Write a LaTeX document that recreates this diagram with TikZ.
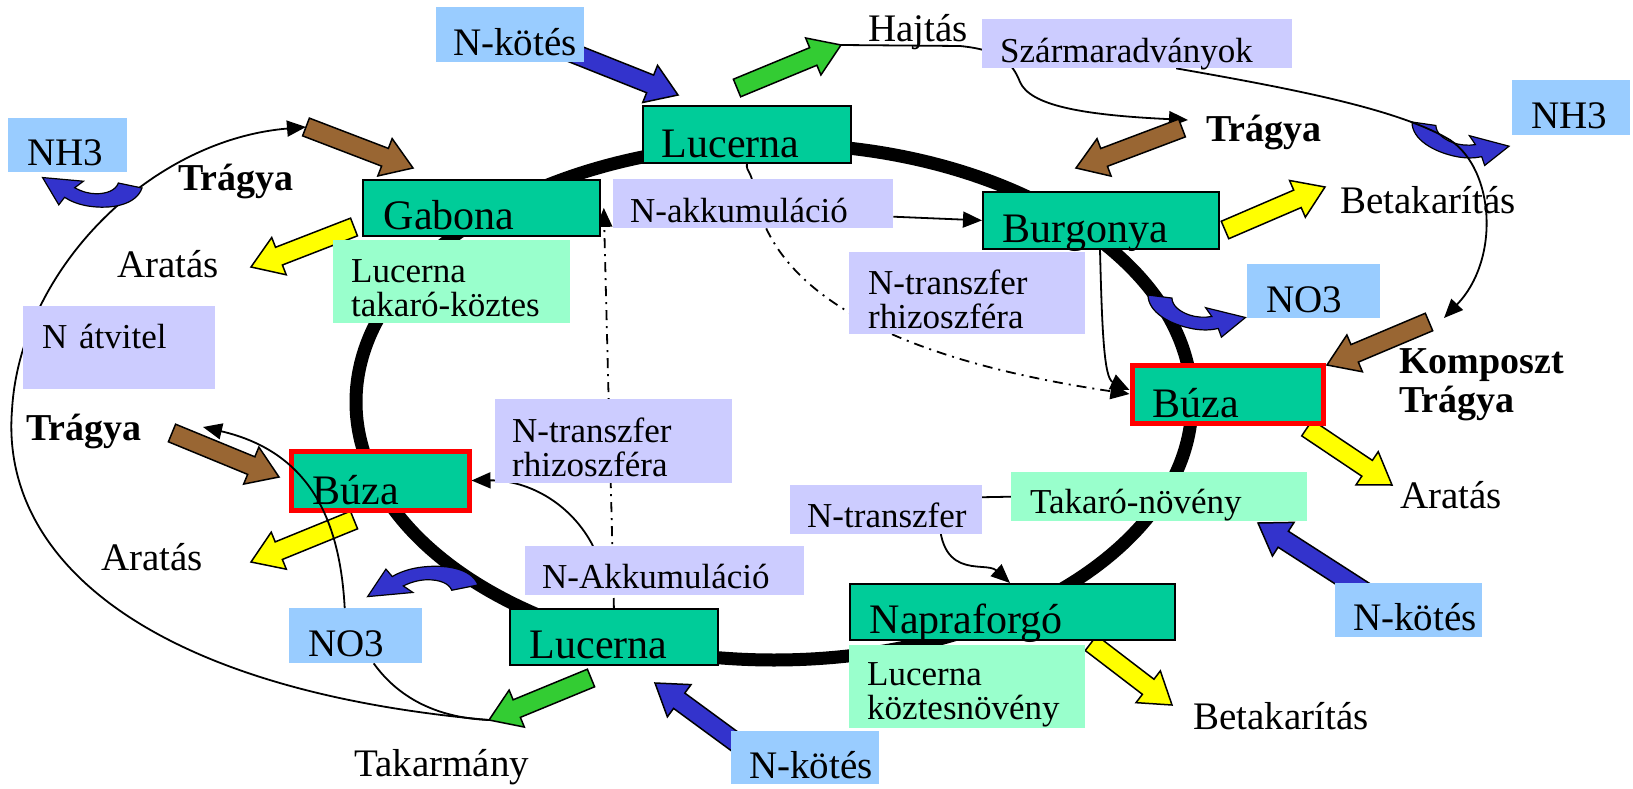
\documentclass[tikz,border=0pt]{standalone}
\usepackage{fontspec}
\setmainfont{Liberation Serif}
\usetikzlibrary{calc, arrows.meta}
\hyphenpenalty=10000
\exhyphenpenalty=10000
\definecolor{cropgreen}{HTML}{00CC99}
\definecolor{gasblue}{HTML}{99CCFF}
\definecolor{notelilac}{HTML}{CCCCFF}
\definecolor{covermint}{HTML}{99FFCC}
\definecolor{manure}{HTML}{996633}
\definecolor{harvest}{HTML}{FFFF00}
\definecolor{shoot}{HTML}{33CC33}
\definecolor{fixblue}{HTML}{3333CC}
\newcommand{\cropfont}{\fontsize{42}{48}\selectfont}
\newcommand{\notefont}{\fontsize{35}{34}\selectfont}
\newcommand{\gasfont}{\fontsize{39}{44}\selectfont}
\newcommand{\outfont}{\fontsize{39}{44}\selectfont}
\newcommand{\heavyfont}{\fontsize{38}{39}\selectfont\bfseries}
\pgfdeclarelayer{back}
\pgfsetlayers{back,main}
\tikzset{
	plate/.code n args={4}{%
		\pgfmathsetmacro\platew{#1-2*#3}%
		\pgfmathsetmacro\plated{#2-#4}%
		\edef\platekeys{anchor=north west, inner xsep=#3pt, inner ysep=0pt, text width=\platew pt, text height=#4pt, text depth=\plated pt, minimum height=#2pt, align=left}%
		\expandafter\pgfkeysalso\expandafter{\platekeys}},
}
\newcommand{\fatarrow}[3]{%
	\coordinate (fa-base) at ($(#3)!30pt!(#2)$);
	\draw[line width=1.5pt, fill=#1]($(#2)!9.5pt!90:(#3)$)--($(fa-base)!9.5pt!90:(#3)$)--($(fa-base)!20pt!90:(#3)$)--(#3)--($(fa-base)!20pt!-90:(#3)$)--($(fa-base)!9.5pt!-90:(#3)$)--($(#2)!9.5pt!-90:(#3)$)--cycle;
}
\newcommand{\curlarrow}[1]{%
	\draw[line width=1.2pt, fill=fixblue, #1](0,0) .. controls (4,28) and (28,40) .. (52,38) .. controls (62,37) and (70,33) .. (76,28)--(81,41)--(100,0)--(59,-1)--(67,11) .. controls (60,16) and (52,18) .. (45,17) .. controls (34,15) and (26,8) .. (24,-4)--cycle;
}

\begin{document}
\begin{tikzpicture}[x=1pt, y=-1pt,
	flow/.style={line width=1.8pt, -{Triangle[length=19pt, width=16pt]}},
	link/.style={line width=1.8pt},
	dashdot/.style={flow, dash pattern=on 10pt off 6pt on 2pt off 6pt},
	crop/.style={draw, line width=1.8pt, fill=cropgreen, font=\cropfont},
	wheat/.style={crop, draw=red, line width=5pt},
	gas/.style={fill=gasblue, font=\gasfont},
	note/.style={fill=notelilac, font=\notefont},
	cover/.style={fill=covermint, font=\notefont},
	word/.style={anchor=base west, inner sep=0pt, font=\outfont},
	heavy/.style={word, font=\heavyfont}]
	\useasboundingbox (0,0) rectangle (1633,789);

	\node[plate={208}{57}{19}{52}, crop] (lucn) at (642,105) {Lucerna};
	\node[plate={237}{56}{21}{50}, crop] (gabona) at (362,179) {Gabona};
	\node[plate={236}{57}{20}{51}, crop] (burgonya) at (982,191) {Burgonya};
	\node[plate={191}{58}{20.5}{52.5}, wheat] (buzae) at (1129.5,362.5) {Búza};
	\node[plate={178}{59}{21.5}{53.5}, wheat] (buzaw) at (288.5,448.5) {Búza};
	\node[plate={208}{56}{20}{50}, crop] (lucs) at (509,608) {Lucerna};
	\node[plate={325}{56}{20}{50}, crop] (napra) at (849,583) {Napraforgó};

	\node[plate={148}{55}{17}{48}, gas] (nkot-n) at (436,7) {N-kötés};
	\node[plate={119}{54}{19}{47}, gas] (nh3-w) at (8,118) {NH3};
	\node[plate={118}{55}{19}{48}, gas] (nh3-e) at (1512,80) {NH3};
	\node[plate={133}{54}{19}{48}, gas] (no3-e) at (1247,264) {NO3};
	\node[plate={133}{55}{19}{48}, gas] (no3-w) at (289,608) {NO3};
	\node[plate={147}{54}{18}{47}, gas] (nkot-e) at (1335,583) {N-kötés};
	\node[plate={148}{53}{18}{47}, gas] (nkot-s) at (731,731) {N-kötés};

	\node[plate={310}{49}{18}{43}, note] (szarm) at (982,19) {Szármaradványok};
	\node[plate={280}{49}{17}{43}, note] (nakk) at (613,179) {N-akkumuláció};
	\node[plate={236}{82}{19}{42}, note] (ntr-e) at (849,252) {N-transzfer\\rhizoszféra};
	\node[plate={192}{83}{19}{42}, note] (natv) at (23,306) {N átvitel};
	\node[plate={237}{84}{17}{43}, note] (ntr-w) at (495,399) {N-transzfer\\rhizoszféra};
	\node[plate={192}{49}{17}{42}, note] (ntr-s) at (790,485) {N-transzfer};
	\node[plate={279}{49}{17}{42}, note] (nakk-s) at (525,546) {N-Akkumuláció};

	\node[plate={237}{83}{18}{42}, cover] (luctak) at (333,240) {Lucerna\\takaró-köztes};
	\node[plate={296}{49}{19}{41}, cover] (takaro) at (1011,472) {Takaró-növény};
	\node[plate={236}{83}{18}{40}, cover] (luckoz) at (849,645) {Lucerna\\köztesnövény};

	\node[heavy] (tragya-nw) at (178,190) {Trágya};
	\node[word] (aratas-nw) at (117,277) {Aratás};
	\node[word] (hajtas) at (868,42) {Hajtás};
	\node[heavy] (tragya-ne) at (1206,142) {Trágya};
	\node[word] (betak-e) at (1340,213) {Betakarítás};
	\node[heavy, text width=190pt, align=left] (kompo) at (1399,373) {Komposzt\\Trágya};
	\node[heavy] (tragya-w) at (26,440) {Trágya};
	\node[word] (aratas-w) at (101,570) {Aratás};
	\node[word] (aratas-e) at (1400,508) {Aratás};
	\node[word] (takarmany) at (354,776) {Takarmány};
	\node[word] (betak-s) at (1193,729) {Betakarítás};

	\coordinate (m1a) at (306,127); \coordinate (m1b) at (413,168);
	\coordinate (m2a) at (1182,128); \coordinate (m2b) at (1076,168);
	\coordinate (m3a) at (1429,322); \coordinate (m3b) at (1327,365);
	\coordinate (m4a) at (172,433); \coordinate (m4b) at (279,477);
	\coordinate (h1a) at (354,227); \coordinate (h1b) at (251,267);
	\coordinate (h2a) at (1225,230); \coordinate (h2b) at (1325,187);
	\coordinate (h3a) at (1307,428); \coordinate (h3b) at (1392,485);
	\coordinate (h4a) at (354,520); \coordinate (h4b) at (251,562);
	\coordinate (h5a) at (1091,643); \coordinate (h5b) at (1172,705);
	\coordinate (s1a) at (737,88); \coordinate (s1b) at (841,45);
	\coordinate (s2a) at (591,678); \coordinate (s2b) at (489,720);
	\coordinate (f1a) at (560,48); \coordinate (f1b) at (678,95);
	\coordinate (f2a) at (1370,595); \coordinate (f2b) at (1258,523);
	\coordinate (f3a) at (760,760); \coordinate (f3b) at (655,683);
	\coordinate (ha-end) at (1188,120);
	\coordinate (ko-end) at (1444,318);
	\coordinate (tw) at (203,427);

	\begin{pgfonlayer}{back}
		\draw[line width=13pt] (774,402) ellipse [x radius=418pt, y radius=258pt];
		\draw[flow] (s2b) .. controls (150,690) and (0,560) .. (12,410) .. controls (20,270) and (150,140) .. (m1a);
		\draw[link] ($(no3-w.south)+(18,0)$) .. controls (400,700) and (440,718) .. (s2b);
		\draw[flow] (s1b) -- (960,46) .. controls (1000,50) and (1012,62) .. (1020,82) .. controls (1030,105) and (1080,115) .. (ha-end);
		\draw[flow] ([yshift=-13pt]nakk.east) -- (burgonya.west);
		\draw[link] (lucn.south) .. controls (746,172) and (752,172) .. (753,186);
		\draw[dashdot] ($(nakk.south)+(13,0)$) .. controls (800,300) and (900,360) .. (buzae.west);
		\draw[dashdot] (lucs.north) -- ([xshift=3pt]gabona.east);
		\draw[flow] ($(nakk-s.north west)+(68,0)$) .. controls (572,505) and (530,480) .. (buzaw.east);
		\draw[flow] ($(burgonya.south west)+(118,0)$) .. controls (1102,330) and (1104,378) .. ([yshift=4pt]buzae.west);
		\draw[flow] (takaro.west) -- (940,498) .. controls (932,585) and (985,560) .. ($(napra.north west)+(161,0)$);

		\fatarrow{manure}{m1a}{m1b}
		\fatarrow{manure}{m2a}{m2b}
		\fatarrow{manure}{m3a}{m3b}
		\fatarrow{manure}{m4a}{m4b}
		\fatarrow{harvest}{h1a}{h1b}
		\fatarrow{harvest}{h2a}{h2b}
		\fatarrow{harvest}{h3a}{h3b}
		\fatarrow{harvest}{h4a}{h4b}
		\fatarrow{harvest}{h5a}{h5b}
		\fatarrow{shoot}{s1a}{s1b}
		\fatarrow{shoot}{s2a}{s2b}
		\fatarrow{fixblue}{f1a}{f1b}
		\fatarrow{fixblue}{f2a}{f2b}
		\fatarrow{fixblue}{f3a}{f3b}

		\curlarrow{shift={(142,188)}, rotate=-6, xscale=-1, yscale=0.62}
		\curlarrow{shift={(1412,122)}, rotate=-14, yscale=0.6}
		\curlarrow{shift={(1148,295)}, rotate=-13, yscale=0.6}
		\curlarrow{shift={(478,585)}, rotate=6, xscale=-1.11, yscale=-0.62}

		\draw[flow] ($(szarm.south)+(39,0)$) .. controls (1300,90) and (1400,110) .. (1450,140) .. controls (1495,170) and (1500,260) .. (ko-end);
	\end{pgfonlayer}

	\draw[flow] ($(no3-w.north)+(-11,0)$) .. controls (340,520) and (310,452) .. (tw);
\end{tikzpicture}
\end{document}
